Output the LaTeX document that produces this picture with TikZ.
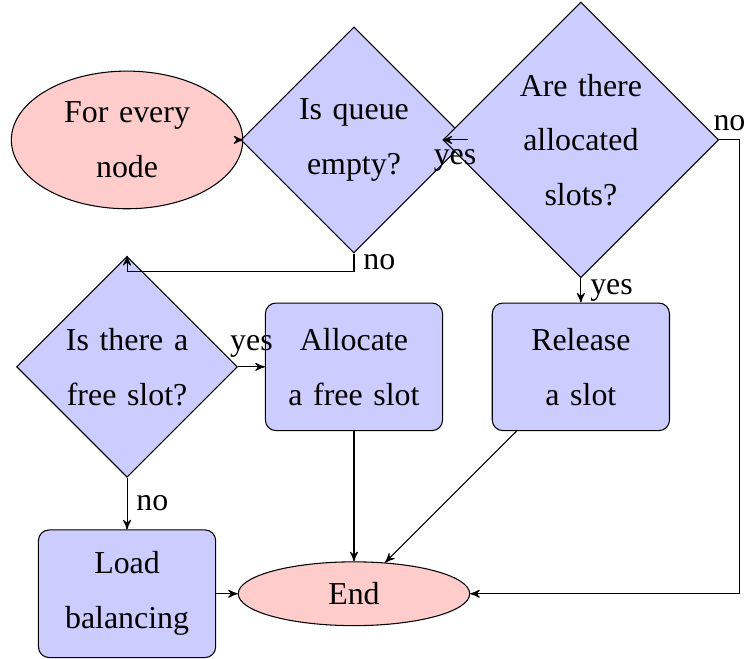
\documentclass[tikz,border=0pt]{standalone}
\usepackage{fontspec}
\setmainfont{Liberation Serif}
\usetikzlibrary{shapes.geometric, positioning, arrows}

\begin{document}
\begin{tikzpicture}[auto, node distance=3cm, on grid, >=stealth',
	every node/.style={font=\fontsize{12}{20.6}\selectfont},
	decision/.style={diamond, draw, fill=blue!20, text width=54pt, align=center, inner sep=0pt},
	block/.style={rectangle, draw, fill=blue!20, text width=60pt, align=center, rounded corners, minimum height=48pt},
	cloud/.style={ellipse, draw, fill=red!20, text width=54pt, align=center, minimum width=3.06cm, minimum height=24pt}]
	\useasboundingbox (-1.68,1.85) rectangle (8.17,-6.86);
	\node (start) [cloud, minimum height=1.82cm] {For every\\node};
	\node (queue) [decision, right=of start] {Is queue\\empty?};
	\node (slots) [decision, right=of queue] {Are there\\allocated\\slots?};
	\node (free) [decision, below=of start] {Is there a\\free slot?};
	\node (allocate) [block, right=of free] {Allocate\\a free slot};
	\node (release) [block, right=of allocate] {Release\\a slot};
	\node (balance) [block, below=of free] {Load\\balancing};
	\node (end) [cloud, right=of balance] {End};
	\path [->]
		(queue) edge (start)
		(queue) edge node {yes} (slots)
		(slots) edge node {yes} (release)
		(free) edge node {yes} (allocate)
		(free) edge node {no} (balance)
		(allocate) edge (end)
		(release) edge (end)
		(balance) edge (end)
	;
	\draw [->] (queue.south) -- node {no} ++(0,-0.24) -| (free);
	\draw [->] (slots.east) -- node {no} ++(0.27,0) |- (end);
\end{tikzpicture}
\end{document}
